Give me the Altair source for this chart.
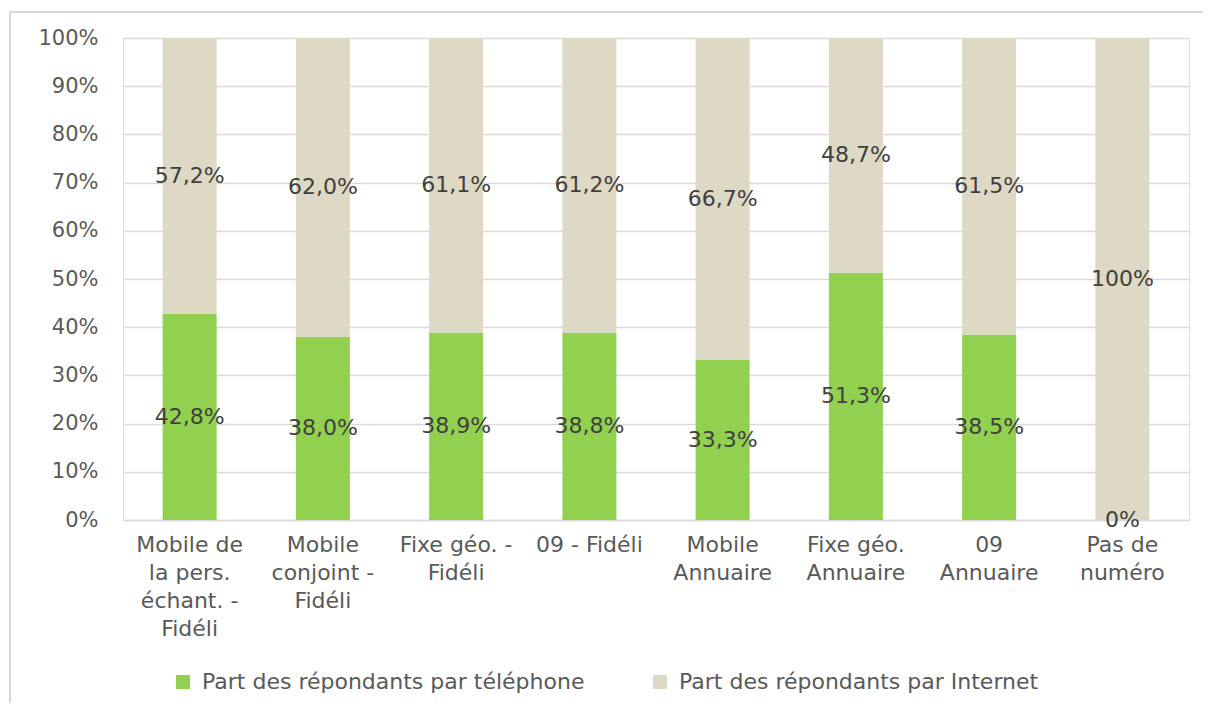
import altair as alt
import pandas as pd

categories = [
    "Mobile de|la pers.|échant. -|Fidéli",
    "Mobile|conjoint -|Fidéli",
    "Fixe géo. -|Fidéli",
    "09 - Fidéli",
    "Mobile|Annuaire",
    "Fixe géo.|Annuaire",
    "09|Annuaire",
    "Pas de|numéro",
]
series = ["Part des répondants par téléphone", "Part des répondants par Internet"]
telephone = [42.8, 38.0, 38.9, 38.8, 33.3, 51.3, 38.5, 0]
internet = [57.2, 62.0, 61.1, 61.2, 66.7, 48.7, 61.5, 100]
colors = ["#92D050", "#DDD9C4"]
y_ticks = [0, 10, 20, 30, 40, 50, 60, 70, 80, 90, 100]


def fmt(v):
    if v in (0, 100):
        return f"{int(v)}%"
    return f"{v:.1f}".replace(".", ",") + "%"


rows = []
for i, c in enumerate(categories):
    rows.append(dict(cat=c, serie=series[0], val=telephone[i], ord=0, lab=fmt(telephone[i])))
    rows.append(dict(cat=c, serie=series[1], val=internet[i], ord=1, lab=fmt(internet[i])))
df = pd.DataFrame(rows)

FONT = "DejaVu Sans"
W, H = 1066, 482

base = alt.Chart(df).transform_stack(
    stack="val", groupby=["cat"], as_=["y0", "y1"], sort=[alt.SortField("ord")]
).transform_calculate(mid="(datum.y0 + datum.y1) / 2")

xenc = alt.X(
    "cat:N",
    sort=categories,
    title=None,
    scale=alt.Scale(paddingInner=0, paddingOuter=0),
    axis=alt.Axis(
        labelExpr="split(datum.label, '|')",
        labelAngle=0,
        labelFontSize=22,
        labelColor="#595959",
        labelFont=FONT,
        labelLineHeight=28,
        labelPadding=14,
        labelLimit=300,
        labelBaseline="top",
        ticks=False,
        domainColor="#D9D9D9",
        domainWidth=1.5,
        grid=False,
    ),
)

bars = base.mark_bar(size=54).encode(
    x=xenc,
    y=alt.Y(
        "y0:Q",
        title=None,
        scale=alt.Scale(domain=[0, 100], nice=False),
        axis=alt.Axis(
            values=y_ticks,
            labelExpr="datum.value + '%'",
            labelFontSize=21,
            labelColor="#595959",
            labelFont=FONT,
            labelPadding=25,
            ticks=False,
            domain=False,
            gridColor="#D9D9D9",
            gridWidth=1.5,
        ),
    ),
    y2="y1:Q",
    color=alt.Color(
        "serie:N",
        scale=alt.Scale(domain=series, range=colors),
        title=None,
        legend=alt.Legend(
            orient="none",
            legendX=49,
            legendY=633,
            direction="horizontal",
            symbolType="square",
            symbolSize=196,
            symbolStrokeWidth=0,
            labelFontSize=22,
            labelFont=FONT,
            labelColor="#595959",
            labelLimit=600,
            labelOffset=8,
            columnPadding=64,
        ),
    ),
    order=alt.Order("ord:Q"),
)

text = base.mark_text(fontSize=22, color="#404040", font=FONT, baseline="middle").encode(
    x=alt.X("cat:N", sort=categories),
    y=alt.Y("mid:Q"),
    text="lab:N",
)

frame_data = alt.Data(values=[{"k": 1}])
left_line = alt.Chart(frame_data).mark_rule(color="#D9D9D9", strokeWidth=2).encode(
    x=alt.value(-113), y=alt.value(-26), y2=alt.value(700)
)
top_line = alt.Chart(frame_data).mark_rule(color="#D9D9D9", strokeWidth=2).encode(
    x=alt.value(-113), x2=alt.value(W + 14), y=alt.value(-26)
)

chart = alt.layer(bars, text, left_line, top_line).properties(
    width=W,
    height=H,
    autosize=alt.AutoSizeParams(type="none"),
    padding={"left": 115, "top": 30, "right": 14, "bottom": 183},
).configure_view(stroke=None).configure(font=FONT)

chart.save("out.html", embed_options={"renderer": "svg", "actions": False})
